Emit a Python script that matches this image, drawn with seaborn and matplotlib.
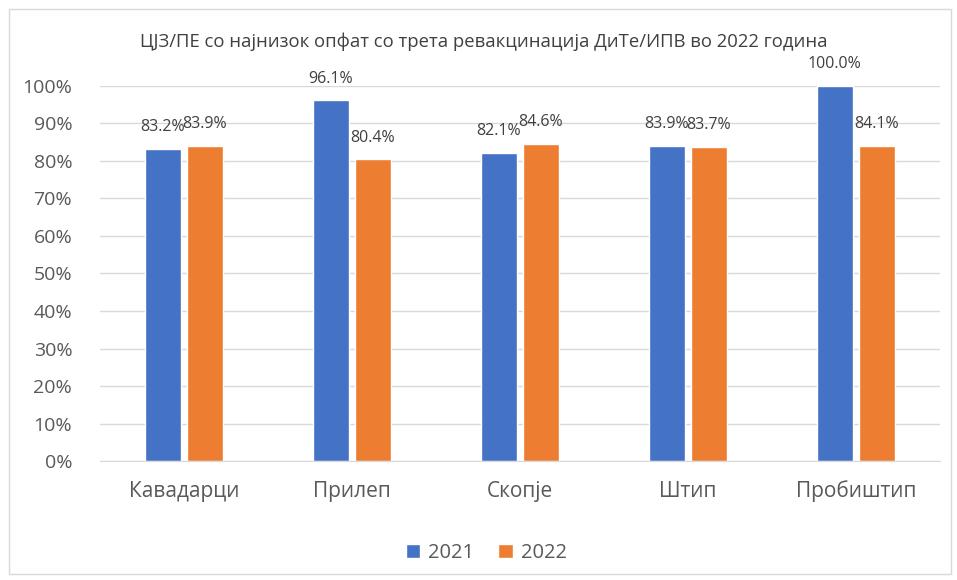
import matplotlib
matplotlib.use("Agg")
import matplotlib.pyplot as plt
import matplotlib.patches as mpatches
from matplotlib.ticker import FuncFormatter
import pandas as pd
import seaborn as sns

cities = ["Кавадарци", "Прилеп", "Скопје", "Штип", "Пробиштип"]
vals_2021 = [83.2, 96.1, 82.1, 83.9, 100.0]
vals_2022 = [83.9, 80.4, 84.6, 83.7, 84.1]
years = ["2021", "2022"]
title = "ЦЈЗ/ПЕ со најнизок опфат со трета ревакцинација ДиТе/ИПВ во 2022 година"

df = pd.DataFrame({
    "city": cities * 2,
    "year": [years[0]] * len(cities) + [years[1]] * len(cities),
    "value": vals_2021 + vals_2022,
})

sns.set_style("white")
plt.rcParams["font.family"] = ["Open Sans", "DejaVu Sans"]
txt = "#595959"

fig = plt.figure(figsize=(9.57, 5.8), dpi=100)
ax = fig.add_axes([0.1045, 0.205, 0.8775, 0.647])
sns.barplot(data=df, x="city", y="value", hue="year", order=cities,
            hue_order=years, palette=["#4472C4", "#ED7D31"], saturation=1,
            width=0.5, gap=0.14, ax=ax, legend=True)

for c in ax.containers:
    ax.bar_label(c, fmt="%.1f%%", padding=10, fontsize=11.5, color="#404040")

ax.set_ylim(0, 100)
ax.set_yticks(range(0, 101, 10))
ax.yaxis.set_major_formatter(FuncFormatter(lambda v, p: f"{v:.0f}%"))
ax.yaxis.grid(True, color="#D9D9D9", linewidth=1)
ax.set_axisbelow(True)
for s in ["top", "right", "left"]:
    ax.spines[s].set_visible(False)
ax.spines["bottom"].set_color("#D9D9D9")
ax.tick_params(axis="y", labelsize=14, colors=txt, length=0, pad=20)
ax.tick_params(axis="x", labelsize=15, colors=txt, length=0, pad=14)
ax.set_xlabel("")
ax.set_ylabel("")

ax.legend(loc="upper center", bbox_to_anchor=(0.46, -0.17), ncol=2,
          frameon=False, fontsize=14.5, labelcolor=txt, handlelength=0.7,
          handleheight=0.7, handletextpad=0.4, columnspacing=1.2)

fig.text(0.506, 0.928, title, ha="center", va="center", fontsize=13.3, color="#404040")
fig.patches.append(mpatches.Rectangle((0.009, 0.01), 0.985, 0.975, transform=fig.transFigure,
                                      fill=False, edgecolor="#D9D9D9", linewidth=1))

fig.savefig("out.png", dpi=100)
